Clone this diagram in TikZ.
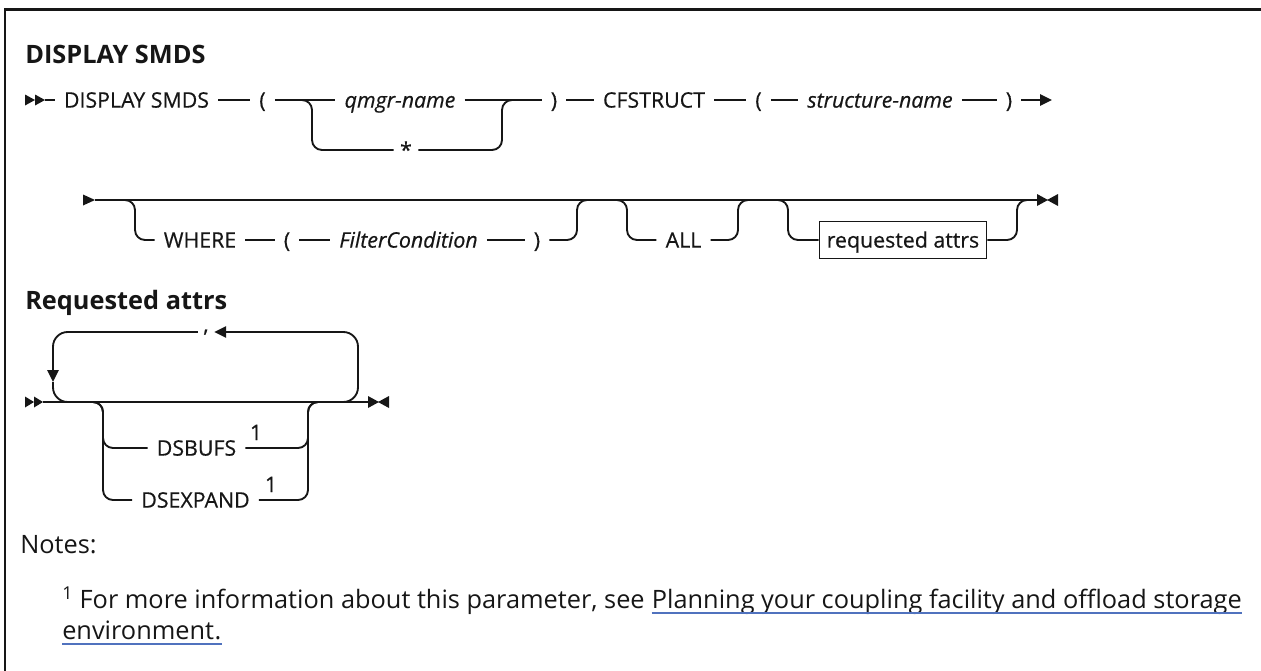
\documentclass[tikz,border=0pt]{standalone}
\usepackage{fontspec}
\setmainfont{Open Sans}
\newfontfamily\tokfont{Open Sans}[FakeBold=0.5]
\usepackage{tikz}
\usetikzlibrary{positioning, calc, arrows.meta}

\definecolor{inkgray}{HTML}{161616}
\definecolor{linkblue}{RGB}{80,114,190}

\begin{document}
\begin{tikzpicture}[x=0.75pt, y=-0.75pt, >=stealth,
    rail/.style={line width=1.4pt, rounded corners=7.5pt, inkgray},
    tok/.style={font=\tokfont\fontsize{16}{19}\selectfont, text=inkgray, inner xsep=6.75pt, inner ysep=0pt, text height=11.4pt, text depth=0pt},
    var/.style={tok, font=\tokfont\fontsize{16}{19}\selectfont\itshape},
    sym/.style={tok, inner xsep=0pt, minimum width=18pt},
    boxed/.style={tok, draw=inkgray, line width=1.2pt, inner xsep=5.5pt, minimum height=27.75pt},
    head/.style={font=\fontsize{19}{22}\selectfont\bfseries, text=inkgray, inner sep=0pt, anchor=base west},
    note/.style={font=\fontsize{19}{23}\selectfont, text=inkgray, inner sep=0pt},
    tip/.style={-{Triangle[length=9pt, width=8.5pt]}}]

    \useasboundingbox (0,0) rectangle (1261,671);

    % Frame
    \draw[line width=2pt, inkgray] (5,671) -- (5,9.5) -- (1261,9.5);

    % Headings
    \node[head] (title) at (25,63) {DISPLAY SMDS};
    \node[head] (subtitle) at (25,309) {Requested attrs};

    % First row
    \fill[inkgray] (25,94.5) -- (35,100) -- (25,105.5) -- cycle;
    \fill[inkgray] (35,94.5) -- (45,100) -- (35,105.5) -- cycle;
    \coordinate (s1) at (45,100);
    \node[tok] (dsp) at (136.5,100) {DISPLAY SMDS};
    \node[sym] (lp1) at (262.5,100) {(};
    \node[var] (qmgr) at (400,100) {qmgr-name};
    \node[sym] (star) at (406,150) {*};
    \node[sym] (rp1) at (554,100) {)};
    \node[tok] (cfs) at (654,100) {CFSTRUCT};
    \node[sym] (lp2) at (758.5,100) {(};
    \node[var] (stn) at (880,100) {structure-name};
    \node[sym] (rp2) at (1009,100) {)};
    \coordinate (e1) at (1052,100);

    \draw[rail] (s1) -- (dsp.west);
    \foreach \a/\b in {dsp/lp1, lp1/qmgr, qmgr/rp1, rp1/cfs, cfs/lp2, lp2/stn, stn/rp2}
        \draw[rail] (\a.east) -- (\b.west);
    \draw[rail, tip] (rp2.east) -- (e1);

    % Branch for *
    \coordinate (j0) at (300,100);
    \coordinate (j1) at (312,100);
    \coordinate (j2) at (502,100);
    \coordinate (j3) at (514,100);
    \draw[rail] (j0) -- (j1) |- (star.west);
    \draw[rail] (star.east) -| (j2) -- (j3);

    % Second row
    \fill[inkgray] (83,194.5) -- (95,200) -- (83,205.5) -- cycle;
    \coordinate (s2) at (95,200);
    \coordinate (e2) at (1037,200);
    \draw[rail] (s2) -- (e2);
    \fill[inkgray] (1037,194) -- (1048,200) -- (1037,206) -- cycle;
    \fill[inkgray] (1058,194) -- (1047,200) -- (1058,206) -- cycle;

    \node[tok] (where) at (200,240) {WHERE};
    \node[sym] (lpw) at (287,240) {(};
    \node[var] (flt) at (408.5,240) {FilterCondition};
    \node[sym] (rpw) at (537,240) {)};
    \node[tok] (all) at (683.5,240) {ALL};
    \node[boxed] (req) at (903,240) {requested attrs};

    \foreach \a/\b in {where/lpw, lpw/flt, flt/rpw}
        \draw[rail] (\a.east) -- (\b.west);

    \coordinate (w0) at (123,200);
    \coordinate (w1) at (135,200);
    \coordinate (w2) at (577,200);
    \coordinate (w3) at (589,200);
    \draw[rail] (w0) -- (w1) |- (where.west);
    \draw[rail] (rpw.east) -| (w2) -- (w3);

    \coordinate (a0) at (615,200);
    \coordinate (a1) at (627,200);
    \coordinate (a2) at (738,200);
    \coordinate (a3) at (750,200);
    \draw[rail] (a0) -- (a1) |- (all.west);
    \draw[rail] (all.east) -| (a2) -- (a3);

    \coordinate (r0) at (776,200);
    \coordinate (r1) at (788,200);
    \coordinate (r2) at (1017,200);
    \coordinate (r3) at (1029,200);
    \draw[rail] (r0) -- (r1) |- (req.west);
    \draw[rail] (req.east) -| (r2) -- (r3);

    % Third row (requested attrs)
    \fill[inkgray] (25,396.5) -- (34,402) -- (25,407.5) -- cycle;
    \fill[inkgray] (34,396.5) -- (43,402) -- (34,407.5) -- cycle;
    \coordinate (s3) at (43,402);
    \coordinate (e3) at (368,402);
    \draw[rail] (s3) -- (e3);
    \fill[inkgray] (368,396) -- (379,402) -- (368,408) -- cycle;
    \fill[inkgray] (389,396) -- (378,402) -- (389,408) -- cycle;

    % Repeat loop
    \node[tok, text height=0pt, inner xsep=4pt] (comma) at (206,332) {,};
    \coordinate (l0) at (343,402);
    \coordinate (l1) at (358,402);
    \coordinate (l2) at (358,332);
    \coordinate (l3) at (53,332);
    \coordinate (l4) at (53,382);
    \coordinate (l5) at (53,402);
    \coordinate (l6) at (68,402);
    \draw[rail, rounded corners=11pt, tip] (l0) -- (l1) -- (l2) -- (comma.east);
    \draw[rail, rounded corners=11pt, tip] (comma.west) -- (l3) -- (l4);
    \draw[rail, rounded corners=11pt] (l4) -- (l5) -- (l6);

    % Choices
    \node[tok] (dsb) at (196.5,448) {DSBUFS};
    \node[tok] (dsx) at (195.5,500) {DSEXPAND};
    \node[tok, anchor=base] (fna) at (256,440) {1};
    \node[tok, anchor=base] (fnb) at (271,492) {1};
    \coordinate (k0) at (91,402);
    \coordinate (k1) at (103,402);
    \coordinate (k2) at (308,402);
    \coordinate (k3) at (320,402);
    \draw[rail] (k0) -- (k1) |- (dsb.west);
    \draw[rail] (k0) -- (k1) |- (dsx.west);
    \draw[rail] (dsb.east) -| (k2) -- (k3);
    \draw[rail] (dsx.east) -| (k2) -- (k3);

    % Notes
    \node[note, anchor=base west] (notes) at (20,553) {Notes:};
    \node[note, anchor=base west] (fntext) at (62,608) {\textsuperscript{1} For more information about this parameter, see};
    \node[note, base right=5pt of fntext] (link) {Planning your coupling facility and offload storage};
    \node[note, anchor=base west] (envlink) at (62,639) {environment};
    \node[note, anchor=base west] (period) at (envlink.base east) {.};
    \draw[linkblue, line width=0.9pt] ([yshift=-3.75pt]link.base west) -- ([yshift=-3.75pt]link.base east);
    \draw[linkblue, line width=0.9pt] ([yshift=-3.75pt]envlink.base west) -- ([yshift=-3.75pt]period.base east);
\end{tikzpicture}
\end{document}
